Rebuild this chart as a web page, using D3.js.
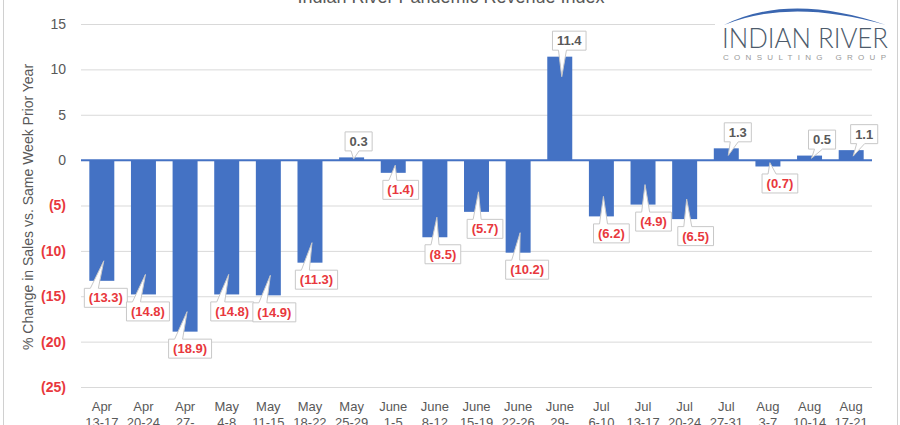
<!DOCTYPE html>
<html>
<head>
<meta charset="utf-8">
<script src="https://cdn.jsdelivr.net/npm/d3@7"></script>
<style>
  body { margin: 0; background: #fff; }
  svg { display: block; font-family: "Liberation Sans", Arial, sans-serif; }
</style>
</head>
<body>
<div class="chartWrapper"></div>
<script>
// weeks (each label split into lines as in the chart)
var weeks = [
  ['Apr','13-17'], ['Apr','20-24'], ['Apr','27-','May 1'], ['May','4-8'], ['May','11-15'],
  ['May','18-22'], ['May','25-29'], ['June','1-5'], ['June','8-12'], ['June','15-19'],
  ['June','22-26'], ['June','29-','July 3'], ['Jul','6-10'], ['Jul','13-17'], ['Jul','20-24'],
  ['Jul','27-31'], ['Aug','3-7'], ['Aug','10-14'], ['Aug','17-21']
];
// % change in sales vs same week prior year
var values = [-13.3, -14.8, -18.9, -14.8, -14.9, -11.3, 0.3, -1.4, -8.5, -5.7,
              -10.2, 11.4, -6.2, -4.9, -6.5, 1.3, -0.7, 0.5, 1.1];
var yTicks = [15, 10, 5, 0, -5, -10, -15, -20, -25];

var width = 900, height = 425;
var blue = '#4472c4', red = '#e8383d', grey = '#595959';

var svg = d3.select('.chartWrapper').append('svg')
  .attr('width', width).attr('height', height);

// outer frame
svg.append('rect')
  .attr('x', 3.5).attr('y', -2).attr('width', 894).attr('height', 440)
  .attr('fill', 'none').attr('stroke', '#d0d0d0');

var x = d3.scaleBand()
  .domain(d3.range(values.length))
  .range([81, 872])
  .paddingInner(0.4)
  .paddingOuter(0.2);
var y = d3.scaleLinear().domain([-25, 15]).range([387, 24]);

function fmt(v) {
  return v < 0 ? '(' + d3.format('')(-v) + ')' : d3.format('')(v);
}

// gridlines
svg.append('g')
  .attr('transform', 'translate(81,0)')
  .call(d3.axisLeft(y).tickValues(yTicks).tickSize(-791).tickFormat(''))
  .call(function (g) {
    g.select('.domain').remove();
    g.selectAll('line').attr('stroke', '#d9d9d9');
  });

// y tick labels
svg.append('g')
  .attr('transform', 'translate(81,0)')
  .call(d3.axisLeft(y).tickValues(yTicks).tickSize(0).tickPadding(15).tickFormat(fmt))
  .call(function (g) {
    g.select('.domain').remove();
    g.selectAll('text')
      .attr('font-size', 14)
      .attr('font-weight', function (d) { return d < 0 ? 'bold' : 'normal'; })
      .attr('fill', function (d) { return d < 0 ? red : grey; });
  });

// y axis title
svg.append('text')
  .attr('transform', 'translate(33,207) rotate(-90)')
  .attr('text-anchor', 'middle')
  .attr('font-size', 14)
  .attr('fill', grey)
  .text('% Change in Sales vs. Same Week Prior Year');

// x labels
var xAxis = svg.append('g')
  .attr('transform', 'translate(0,398)')
  .call(d3.axisBottom(x).tickSize(0).tickFormat(''));
xAxis.select('.domain').remove();
xAxis.selectAll('.tick').append('text')
  .attr('fill', grey)
  .attr('font-size', 13)
  .attr('text-anchor', 'middle')
  .selectAll('tspan')
  .data(function (i) { return weeks[i]; })
  .enter().append('tspan')
  .attr('x', 0)
  .attr('y', function (d, k) { return 13 + k * 16; })
  .text(function (d) { return d; });

// bars
svg.append('g').selectAll('rect')
  .data(values)
  .enter().append('rect')
  .attr('fill', blue)
  .attr('x', function (d, i) { return x(i); })
  .attr('y', function (d) { return y(Math.max(0, d)); })
  .attr('width', x.bandwidth())
  .attr('height', function (d) { return Math.abs(y(d) - y(0)); });

// zero line
svg.append('line')
  .attr('x1', 81).attr('x2', 872)
  .attr('y1', y(0)).attr('y2', y(0))
  .attr('stroke', blue).attr('stroke-width', 2);

// callout labels
var labels = svg.append('g').selectAll('g')
  .data(values)
  .enter().append('g');

labels.each(function (d, i) {
  var g = d3.select(this);
  var bc = x(i) + x.bandwidth() / 2;
  var end = y(d), zero = y(0);
  var cx = bc + 4 + i * 0.5;
  var cy = d < 0 ? end + 17 : end - 16;
  var path = g.append('path');
  var t = g.append('text')
    .attr('x', cx).attr('y', cy).attr('dy', '0.35em')
    .attr('text-anchor', 'middle')
    .attr('font-size', 13)
    .attr('font-weight', 'bold')
    .attr('fill', d < 0 ? red : grey)
    .text(fmt(d));
  var w = t.node().getComputedTextLength() + 9, h = 19;
  var L = cx - w / 2, R = cx + w / 2, T = cy - h / 2, B = cy + h / 2;
  var depth = Math.min(20, Math.abs(end - zero) * 0.6);
  var tipX = bc + 2;
  var p;
  if (d < 0) {
    var tipY = end - depth;
    p = [[L, T], [L + 6, T], [tipX, tipY], [L + 14, T], [R, T], [R, B], [L, B]];
  } else {
    var tipY2 = end + depth;
    p = [[L, T], [R, T], [R, B], [L + 14, B], [tipX, tipY2], [L + 6, B], [L, B]];
  }
  path.attr('d', d3.line()(p) + 'Z')
    .attr('fill', '#fff')
    .attr('stroke', '#c8c8c8')
    .attr('stroke-width', 1);
});

// title (cropped at top)
svg.append('text')
  .attr('x', 451).attr('y', 3)
  .attr('text-anchor', 'middle')
  .attr('font-size', 18)
  .attr('fill', grey)
  .text('Indian River Pandemic Revenue Index');

// logo
var logo = svg.append('g');
logo.append('rect')
  .attr('x', 715).attr('y', 6).attr('width', 178).attr('height', 58)
  .attr('fill', '#fff');
logo.append('path')
  .attr('d', 'M724,25 Q790,-8 886,25 Q790,-2 724,25 Z')
  .attr('fill', '#3a66b0');
logo.append('text')
  .attr('x', 722).attr('y', 48)
  .attr('font-family', 'Lato, "Open Sans", sans-serif')
  .attr('font-weight', 300)
  .attr('font-size', 27)
  .attr('fill', '#4d5b6b')
  .attr('textLength', 166)
  .attr('lengthAdjust', 'spacingAndGlyphs')
  .text('INDIAN RIVER');
logo.append('text')
  .attr('x', 723).attr('y', 60)
  .attr('font-size', 8)
  .attr('fill', '#9a9a9a')
  .attr('textLength', 163)
  .attr('lengthAdjust', 'spacing')
  .text('CONSULTING GROUP');
</script>
</body>
</html>
